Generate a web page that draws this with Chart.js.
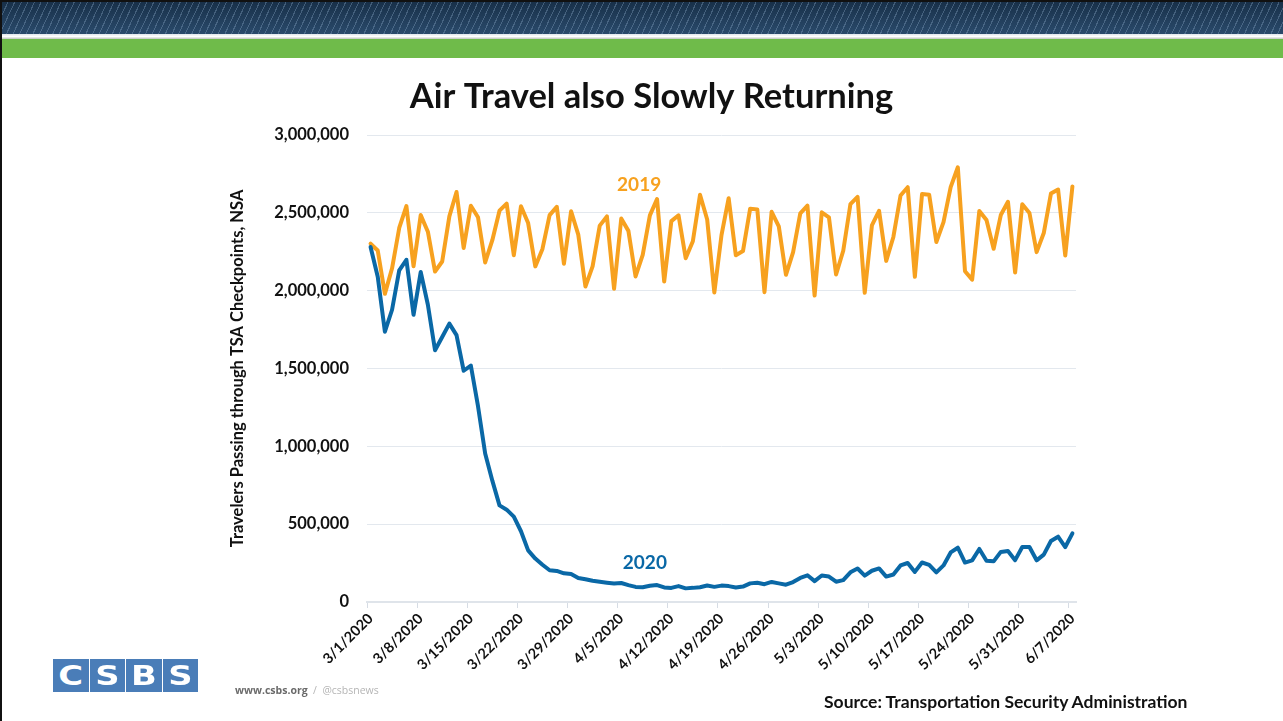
<!DOCTYPE html>
<html>
<head>
<meta charset="utf-8">
<script src="https://cdn.jsdelivr.net/npm/chart.js@4.4.1/dist/chart.umd.min.js"></script>
<style>
  html, body { margin: 0; padding: 0; background: #fff; }
  body { width: 1283px; height: 721px; position: relative; overflow: hidden; font-family: Lato, "Open Sans", sans-serif; }
  .frame { position: absolute; left: 0; top: 0; width: 1283px; height: 721px; box-sizing: border-box; border-left: 2px solid #111; border-top: 2px solid #111; }
  .banner { position: absolute; left: 2px; top: 2px; right: 0; height: 32px;
    background:
      repeating-linear-gradient(115deg, rgba(0,0,0,0) 0 5px, rgba(140,170,200,0.35) 5px 6px),
      linear-gradient(#183049, #2a4a6b); }
  .gap { position: absolute; left: 2px; right: 0; top: 34px; height: 5px; background: linear-gradient(#dfe5ec, #ffffff 50%, #bfc5c0); }
  .green { position: absolute; left: 2px; right: 0; top: 39px; height: 19px; background: #6fbb4a; }
  #chart { position: absolute; left: 0; top: 0; }
  .logo { position: absolute; left: 53px; top: 659px; display: flex; gap: 1px; }
  .logo span { width: 35.5px; height: 33px; background: #4a7db8; color: #fff; font: bold 26px "DejaVu Sans", sans-serif; display: flex; align-items: center; justify-content: center; }
  .logo span b { display: inline-block; transform: scaleX(1.3); }
  .web { position: absolute; left: 235px; top: 683px; font: bold 10.5px "Open Sans", sans-serif; color: #6a6a6a; }
  .web i { font-style: normal; font-weight: normal; color: #b5b5b5; }
  .source { position: absolute; left: 824px; top: 691px; font: bold 17.5px Lato, sans-serif; color: #111; }
</style>
</head>
<body>
<div class="frame"></div>
<div class="banner"></div>
<div class="gap"></div>
<div class="green"></div>
<canvas id="chart" width="1283" height="721"></canvas>
<div class="logo"><span><b>C</b></span><span><b>S</b></span><span><b>B</b></span><span><b>S</b></span></div>
<div class="web">www.csbs.org <i>&nbsp;/&nbsp; @csbsnews</i></div>
<div class="source">Source: Transportation Security Administration</div>
<script>
// daily categories 3/1/2020 .. 6/7/2020
const startDate = new Date(2020, 2, 1);
const dayCount = 99;
const dates = [];
for (let i = 0; i < dayCount; i++) {
  const d = new Date(startDate);
  d.setDate(startDate.getDate() + i);
  dates.push((d.getMonth() + 1) + "/" + d.getDate() + "/" + d.getFullYear());
}

// TSA checkpoint travel numbers, 2019 same weekday
const travelers2019 = [
  2301439, 2257920, 1979558, 2143619, 2402692, 2543689, 2156262, 2485430, 2378673, 2122898,
  2187298, 2477596, 2634215, 2274658, 2545742, 2471427, 2181349, 2324059, 2513742, 2559307,
  2227181, 2542643, 2434370, 2155952, 2267987, 2485149, 2538384, 2172920, 2510294, 2360053,
  2026424, 2155778, 2417735, 2476884, 2011715, 2462929, 2384091, 2091116, 2229276, 2483853,
  2589032, 2059142, 2446801, 2484360, 2208688, 2317381, 2616158, 2457133, 1988205, 2356802,
  2594171, 2227475, 2254209, 2526961, 2521897, 1990464, 2506809, 2412770, 2102068, 2247055,
  2496223, 2546029, 1968278, 2503000, 2470969, 2104278, 2256324, 2555473, 2602631, 1985942,
  2419114, 2512598, 2191387, 2345000, 2611324, 2664549, 2088760, 2620276, 2615691, 2312718,
  2440000, 2665000, 2792644, 2124825, 2070716, 2512237, 2453649, 2269035, 2485770, 2570716,
  2117180, 2555578, 2499002, 2247421, 2370152, 2623947, 2649808, 2225952, 2669860
];

// 2020
const travelers2020 = [
  2280522, 2089641, 1736393, 1877401, 2130015, 2198517, 1844811, 2119867, 1909363, 1617220,
  1702686, 1788456, 1714372, 1485553, 1519192, 1257823, 953699, 779631, 620883, 593167,
  548132, 454516, 331431, 279018, 239234, 203858, 199644, 184027, 180002, 154080,
  146348, 136023, 129763, 124021, 118302, 122029, 108310, 97130, 94931, 104090,
  108977, 93645, 90510, 102184, 87534, 90784, 95085, 106385, 97236, 105382,
  102184, 92859, 98968, 119629, 123464, 114459, 128875, 119854, 110913, 128000,
  154695, 171563, 134261, 170254, 163692, 130601, 140409, 190863, 215444, 169580,
  200815, 215645, 163205, 176667, 234928, 250467, 193340, 253807, 238431, 190477,
  235000, 318449, 348673, 253190, 267451, 340769, 264843, 261170, 321776, 327133,
  268867, 352947, 353261, 267742, 304436, 391882, 419675, 353016, 441255
];

const seriesNames = ["2019", "2020"];
const seriesColors = ["#f7a11f", "#0a68a6"];
// where the series names sit, in data units (category index, travelers)
const nameAtIndex = [37.5, 38.3];
const nameAtValue = [2680000, 250000];

const seriesNamesPlugin = {
  id: "seriesNames",
  afterDatasetsDraw(chart) {
    const { ctx, scales } = chart;
    ctx.save();
    ctx.font = "bold 19px Lato";
    ctx.textAlign = "center";
    ctx.textBaseline = "middle";
    seriesNames.forEach((name, i) => {
      ctx.fillStyle = seriesColors[i];
      ctx.fillText(name, scales.x.getPixelForValue(nameAtIndex[i]), scales.y.getPixelForValue(nameAtValue[i]));
    });
    ctx.restore();
  }
};

Chart.defaults.font.family = "Lato";
Chart.defaults.color = "#111";

new Chart(document.getElementById("chart"), {
  type: "line",
  data: {
    labels: dates,
    datasets: [
      {
        label: "2020",
        data: travelers2020,
        borderColor: seriesColors[1],
        borderWidth: 4,
        pointRadius: 0,
        tension: 0,
        borderJoinStyle: "round",
        borderCapStyle: "round"
      },
      {
        label: "2019",
        data: travelers2019,
        borderColor: seriesColors[0],
        borderWidth: 4,
        pointRadius: 0,
        tension: 0,
        borderJoinStyle: "round",
        borderCapStyle: "round"
      }
    ]
  },
  options: {
    responsive: false,
    animation: false,
    layout: { padding: { left: 227, right: 207, top: 0, bottom: 39 } },
    plugins: {
      legend: { display: false },
      tooltip: { enabled: false },
      title: {
        display: true,
        text: "Air Travel also Slowly Returning",
        color: "#111",
        font: { size: 34.5, weight: "bold" },
        padding: { top: 76, bottom: 17.6 }
      }
    },
    scales: {
      x: {
        offset: true,
        afterFit: (scale) => { scale.height = 80; },
        grid: {
          offset: true,
          drawOnChartArea: false,
          drawTicks: true,
          tickLength: 6,
          color: (ctx) => (ctx.index % 7 === 0 ? "#d6dce4" : "rgba(0,0,0,0)")
        },
        border: { color: "#dfe4ea", width: 2 },
        ticks: {
          autoSkip: false,
          maxRotation: 45,
          minRotation: 45,
          padding: 2,
          color: "#111",
          font: { size: 14.5, weight: "bold" },
          callback: (value, index) => (index % 7 === 0 ? dates[index] : "")
        }
      },
      y: {
        min: 0,
        max: 3000000,
        afterFit: (scale) => { scale.width = 140; },
        grid: { color: "#e3e8ee", lineWidth: 1, drawTicks: false },
        border: { display: false },
        ticks: {
          stepSize: 500000,
          padding: 18,
          color: "#111",
          font: { size: 16.5, weight: "bold" },
          callback: (value) => value.toLocaleString("en-US")
        },
        title: {
          display: true,
          text: "Travelers Passing through TSA Checkpoints, NSA",
          color: "#111",
          font: { size: 16.5, weight: "bold" },
          padding: { top: 1, bottom: 0 }
        }
      }
    }
  },
  plugins: [seriesNamesPlugin]
});
</script>
</body>
</html>
